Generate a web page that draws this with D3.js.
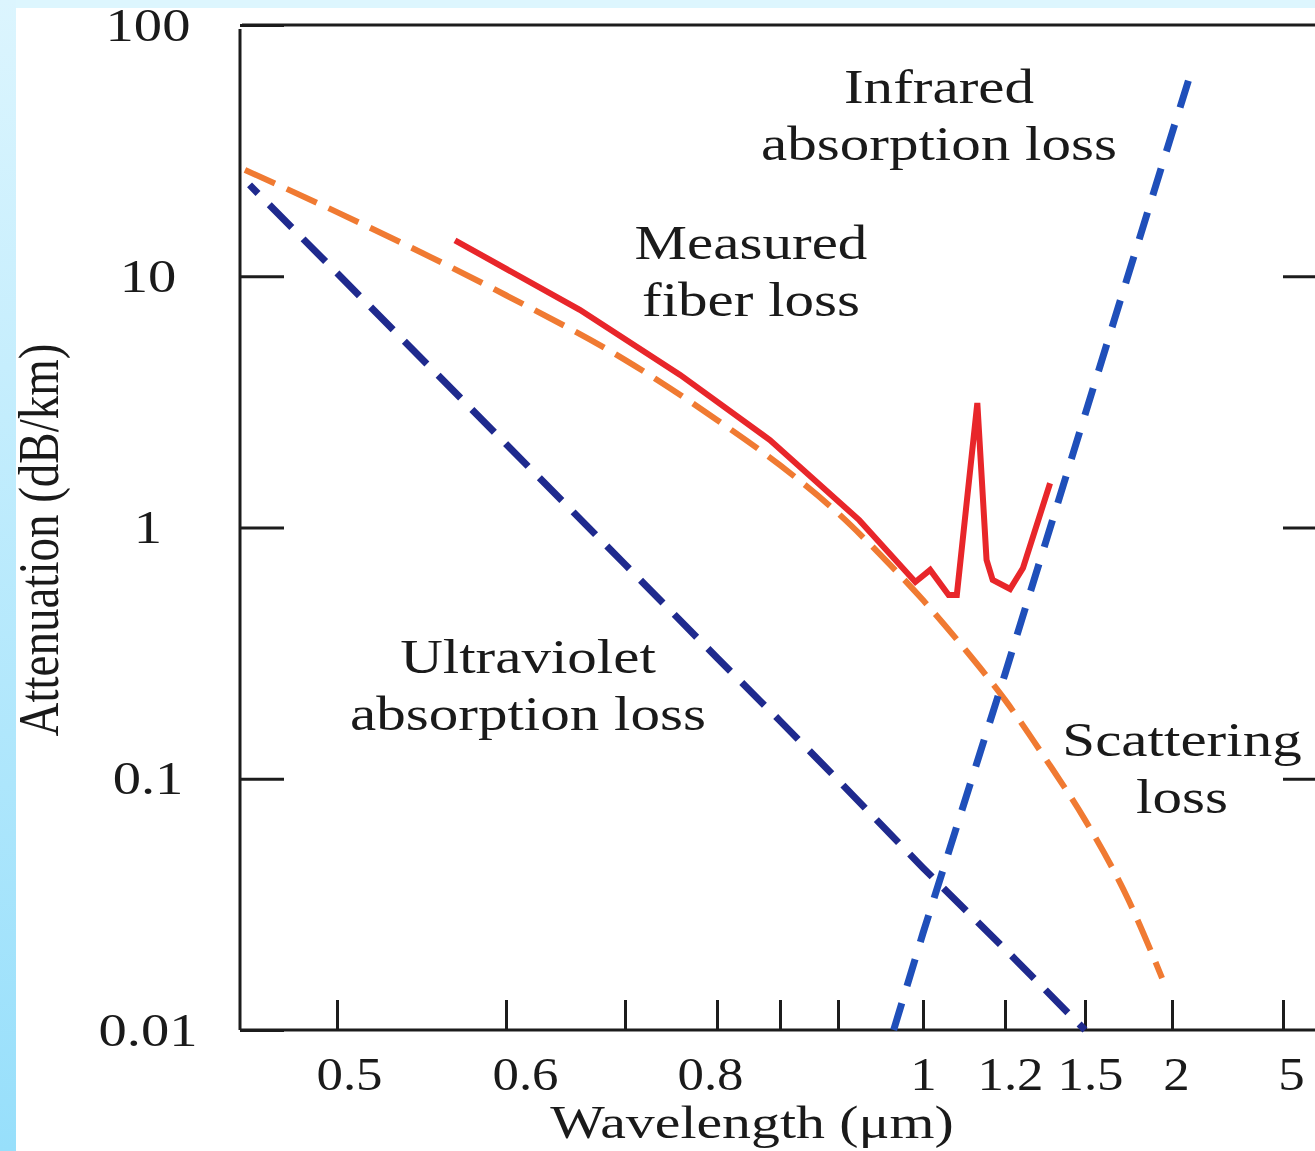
<!DOCTYPE html>
<html>
<head>
<meta charset="utf-8">
<script src="https://cdn.jsdelivr.net/npm/d3@7"></script>
<style>
  body { margin: 0; background: #fff; }
  svg { display: block; }
  text { font-family: "Liberation Serif", "Times New Roman", serif; fill: #1a1a1a; }
</style>
</head>
<body>
<div id="chart"></div>
<script>
// axis ticks
const wavelengthTicks = [0.5, 0.6, 0.7, 0.8, 0.85, 0.9, 1, 1.2, 1.5, 2, 5];
const wavelengthLabels = ["0.5", "0.6", "", "0.8", "", "", "1", "1.2", "1.5", "2", "5"];
const attenuationTicks = [0.01, 0.1, 1, 10, 100];
const attenuationLabels = ["0.01", "0.1", "1", "10", "100"];

// series (wavelength in um, loss in dB/km)
const uvWavelength = [0.447, 0.5, 0.6, 0.7, 0.8, 0.85, 0.9, 1, 1.2, 1.5];
const uvLoss = [23.1, 10.3, 2.15, 0.713, 0.303, 0.170, 0.0989, 0.0442, 0.021, 0.01];

const irWavelength = [0.9655, 1, 1.2, 1.5, 2, 2.49];
const irLoss = [0.01, 0.0243, 0.261, 2.81, 37.1, 63.2];

const scatterWavelength = [0.4442, 0.5, 0.6, 0.7, 0.8, 0.85, 0.9, 0.95, 1, 1.1, 1.2, 1.35, 1.5, 1.75, 1.943];
const scatterLoss = [26.5, 18.0, 8.4, 4.65, 2.68, 1.77, 1.14, 0.778, 0.514, 0.331, 0.206, 0.121, 0.0686, 0.0329, 0.0161];

const measuredWavelength = [0.5698, 0.662, 0.760, 0.842, 0.925, 0.991, 1.0175, 1.0625, 1.0825, 1.1325, 1.155, 1.17, 1.219, 1.2675, 1.369];
const measuredLoss = [13.9, 7.35, 4.05, 2.23, 1.07, 0.607, 0.678, 0.539, 0.539, 3.13, 0.743, 0.618, 0.569, 0.69, 1.50];

const width = 1315, height = 1151;
const plotLeft = 240, plotRight = 1315, plotTop = 25, plotBottom = 1030;
const stretch = 1.23; // the original lettering is wider than plain Times

const svg = d3.select("#chart").append("svg")
    .attr("width", width)
    .attr("height", height);

// light blue frame at the top and left edge
const defs = svg.append("defs");
const grad = defs.append("linearGradient")
    .attr("id", "edge").attr("x1", 0).attr("y1", 0).attr("x2", 0).attr("y2", 1);
grad.append("stop").attr("offset", "0%").attr("stop-color", "#dcf5fe");
grad.append("stop").attr("offset", "100%").attr("stop-color", "#97dffb");

svg.append("rect").attr("width", width).attr("height", height).attr("fill", "#fff");
svg.append("rect").attr("width", width).attr("height", 8).attr("fill", "#ddf6fe");
svg.append("rect").attr("width", 16).attr("height", height).attr("fill", "url(#edge)");

// the wavelength axis of the figure is not uniform, so map it piece by piece
const x = d3.scaleLinear()
    .domain([0.44, 0.5, 0.6, 0.7, 0.8, 0.85, 0.9, 1, 1.2, 1.5, 2, 5, 6])
    .range([238, 337, 506, 625, 717, 780, 838, 923, 1005, 1085, 1172, 1283, 1318]);

const y = d3.scaleLog()
    .domain([0.01, 100])
    .range([plotBottom, plotTop]);

const ink = "#1c1c1c";

// frame
svg.append("line").attr("x1", plotLeft).attr("x2", plotLeft).attr("y1", plotTop + 4).attr("y2", plotBottom)
    .attr("stroke", ink).attr("stroke-width", 3);
svg.append("line").attr("x1", plotLeft).attr("x2", plotRight).attr("y1", plotBottom).attr("y2", plotBottom)
    .attr("stroke", ink).attr("stroke-width", 3);
svg.append("line").attr("x1", plotLeft + 2).attr("x2", plotRight).attr("y1", plotTop).attr("y2", plotTop)
    .attr("stroke", ink).attr("stroke-width", 3);

// bottom axis, ticks point up into the plot
const xAxis = d3.axisBottom(x)
    .tickValues(wavelengthTicks)
    .tickSizeInner(-30)
    .tickSizeOuter(0)
    .tickPadding(27)
    .tickFormat((d, i) => wavelengthLabels[i]);

// the printed labels sit a little off their ticks
const labelNudge = { 0.5: 12, 0.6: 19, 0.8: -7, 1.2: 5, 1.5: 5, 2: 4, 5: 8 };

const gx = svg.append("g")
    .attr("transform", `translate(0,${plotBottom})`)
    .call(xAxis);
gx.select(".domain").remove();
gx.attr("font-family", null).attr("font-size", null);
gx.selectAll(".tick line").attr("stroke", ink).attr("stroke-width", 3);
gx.selectAll(".tick text")
    .style("font-size", "46px")
    .attr("transform", d => `translate(${labelNudge[d] || 0},0) scale(1.15,1)`);

// left axis
const yAxis = d3.axisLeft(y)
    .tickValues(attenuationTicks)
    .tickSizeInner(-44)
    .tickSizeOuter(0)
    .tickFormat((d, i) => attenuationLabels[i]);

const gy = svg.append("g")
    .attr("transform", `translate(${plotLeft},0)`)
    .call(yAxis);
gy.select(".domain").remove();
gy.attr("font-family", null).attr("font-size", null);
gy.selectAll(".tick line").attr("stroke", ink).attr("stroke-width", 3);
gy.selectAll(".tick text")
    .attr("text-anchor", "middle")
    .attr("x", -(plotLeft - 148) / stretch)
    .attr("dy", "0.33em")
    .style("font-size", "46px")
    .attr("transform", `scale(${stretch},1)`);

// short ticks on the right side
const yRight = d3.axisRight(y)
    .tickValues([0.1, 1, 10])
    .tickSizeInner(-32)
    .tickSizeOuter(0)
    .tickFormat("");
const gr = svg.append("g")
    .attr("transform", `translate(${plotRight},0)`)
    .call(yRight);
gr.select(".domain").remove();
gr.selectAll(".tick line").attr("stroke", ink).attr("stroke-width", 3);

// curves
const line = d3.line()
    .x(d => x(d[0]))
    .y(d => y(d[1]));

const smooth = d3.line()
    .x(d => x(d[0]))
    .y(d => y(d[1]))
    .curve(d3.curveMonotoneX);

const zip = (a, b) => a.map((v, i) => [v, b[i]]);

svg.append("path")
    .datum(zip(scatterWavelength, scatterLoss))
    .attr("d", smooth)
    .attr("fill", "none")
    .attr("stroke", "#f07a32")
    .attr("stroke-width", 6)
    .attr("stroke-dasharray", "33,13");

svg.append("path")
    .datum(zip(uvWavelength, uvLoss))
    .attr("d", line)
    .attr("fill", "none")
    .attr("stroke", "#1f2a8e")
    .attr("stroke-width", 7)
    .attr("stroke-dasharray", "32,16")
    .attr("stroke-dashoffset", 20);

svg.append("path")
    .datum(zip(irWavelength, irLoss))
    .attr("d", line)
    .attr("fill", "none")
    .attr("stroke", "#1f4fba")
    .attr("stroke-width", 7)
    .attr("stroke-dasharray", "28,18");

svg.append("path")
    .datum(zip(measuredWavelength, measuredLoss))
    .attr("d", line)
    .attr("fill", "none")
    .attr("stroke", "#e8262a")
    .attr("stroke-width", 6)
    .attr("stroke-linejoin", "miter");

// labels
function label(lines, cx, baseline) {
    lines.forEach((t, i) => {
        svg.append("text")
            .attr("text-anchor", "middle")
            .attr("transform", `translate(${cx},${baseline + i * 57}) scale(${stretch},1)`)
            .style("font-size", "48px")
            .text(t);
    });
}

label(["Infrared", "absorption loss"], 939, 103);
label(["Measured", "fiber loss"], 751, 259);
label(["Ultraviolet", "absorption loss"], 528, 673);
label(["Scattering", "loss"], 1182, 756);

// axis titles
svg.append("text")
    .attr("text-anchor", "middle")
    .attr("transform", `translate(752,1138) scale(${stretch},1)`)
    .style("font-size", "47px")
    .text("Wavelength (\u03bcm)");

svg.append("text")
    .attr("text-anchor", "middle")
    .attr("transform", `translate(58,540) scale(${stretch},1) rotate(-90)`)
    .style("font-size", "47px")
    .text("Attenuation (dB/km)");
</script>
</body>
</html>
